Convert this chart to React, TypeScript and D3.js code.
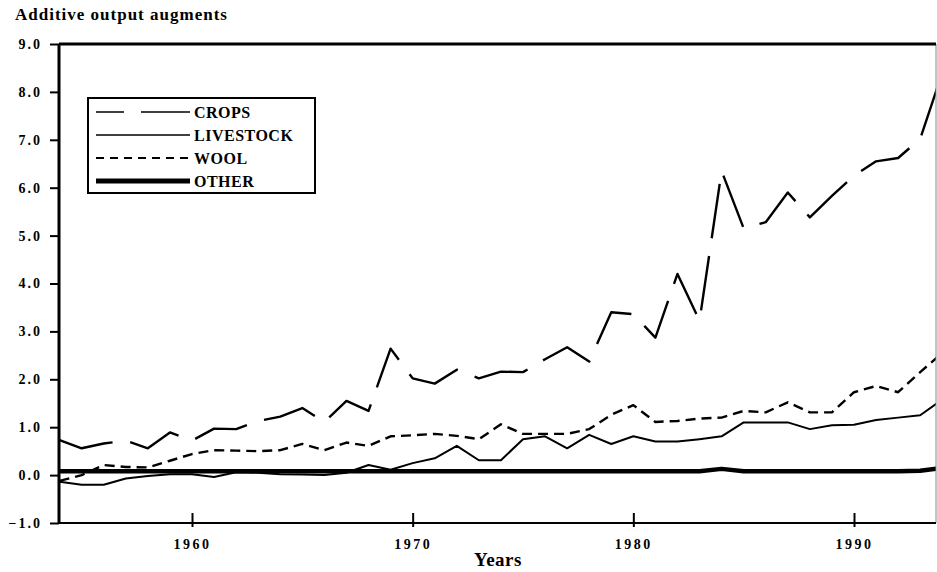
import { useEffect, useRef } from 'react';
import * as d3 from 'd3';

// years on the x axis (one point per year)
const years = [
  1954, 1955, 1956, 1957, 1958, 1959, 1960, 1961, 1962, 1963,
  1964, 1965, 1966, 1967, 1968, 1969, 1970, 1971, 1972, 1973,
  1974, 1975, 1976, 1977, 1978, 1979, 1980, 1981, 1982, 1983,
  1984, 1985, 1986, 1987, 1988, 1989, 1990, 1991, 1992, 1993, 1994,
];

const crops = [
  0.73, 0.56, 0.66, 0.72, 0.56, 0.89, 0.72, 0.97, 0.96, 1.13,
  1.22, 1.40, 1.11, 1.55, 1.34, 2.64, 2.02, 1.91, 2.20, 2.02,
  2.16, 2.15, 2.42, 2.67, 2.37, 3.40, 3.36, 2.87, 4.20, 3.22,
  6.35, 5.15, 5.28, 5.90, 5.38, 5.83, 6.25, 6.55, 6.62, 7.02, 8.40,
];

const livestock = [
  -0.14, -0.20, -0.20, -0.07, -0.02, 0.02, 0.02, -0.04, 0.06, 0.05,
  0.02, 0.01, 0.00, 0.05, 0.21, 0.11, 0.25, 0.35, 0.61, 0.31,
  0.31, 0.75, 0.81, 0.56, 0.84, 0.65, 0.81, 0.70, 0.70, 0.75,
  0.81, 1.10, 1.10, 1.10, 0.96, 1.04, 1.05, 1.15, 1.20, 1.25, 1.58,
];

const wool = [
  -0.12, 0.00, 0.21, 0.17, 0.16, 0.30, 0.44, 0.52, 0.51, 0.50,
  0.52, 0.65, 0.52, 0.68, 0.61, 0.81, 0.83, 0.86, 0.82, 0.75,
  1.06, 0.86, 0.86, 0.86, 0.96, 1.26, 1.46, 1.11, 1.13, 1.18,
  1.20, 1.34, 1.31, 1.52, 1.31, 1.31, 1.73, 1.86, 1.73, 2.15, 2.55,
];

const other = [
  0.08, 0.08, 0.08, 0.08, 0.08, 0.08, 0.08, 0.08, 0.08, 0.08,
  0.08, 0.08, 0.08, 0.08, 0.08, 0.08, 0.08, 0.08, 0.08, 0.08,
  0.08, 0.08, 0.08, 0.08, 0.08, 0.08, 0.08, 0.08, 0.08, 0.08,
  0.13, 0.08, 0.08, 0.08, 0.08, 0.08, 0.08, 0.08, 0.08, 0.09, 0.15,
];

const yTicks = [-1, 0, 1, 2, 3, 4, 5, 6, 7, 8, 9];
const xTicks = [1960, 1970, 1980, 1990];
const seriesNames = ['CROPS', 'LIVESTOCK', 'WOOL', 'OTHER'];

export default function App() {
  const svgRef = useRef<SVGSVGElement>(null);

  useEffect(() => {
    if (!svgRef.current) return;
    const svg = d3.select(svgRef.current);
    svg.selectAll('*').remove();

    const font = "'Liberation Serif', 'Times New Roman', serif";
    const left = 59;
    const right = 936;
    const top = 44;
    const bottom = 523;

    const x = d3.scaleLinear().domain([1960, 1990]).range([192, 854]);
    const y = d3.scaleLinear().domain([-1, 9]).range([bottom, top]);

    // 제목
    svg.append('text')
      .attr('x', 15)
      .attr('y', 20)
      .attr('font-family', font)
      .attr('font-size', 17)
      .attr('font-weight', 700)
      .attr('letter-spacing', 1)
      .text('Additive output augments');

    svg.append('clipPath')
      .attr('id', 'plot-clip')
      .append('rect')
      .attr('x', left)
      .attr('y', top)
      .attr('width', right - left)
      .attr('height', bottom - top);

    const series = [
      { values: crops, dash: '55,18', width: 2.4, legendDash: '28,17,60', legendWidth: 1.6 },
      { values: livestock, dash: null, width: 2, legendDash: null, legendWidth: 1.6 },
      { values: wool, dash: '10,6', width: 2.4, legendDash: '8,6', legendWidth: 2.2 },
      { values: other, dash: null, width: 4.5, legendDash: null, legendWidth: 5 },
    ];

    const line = d3.line<number>()
      .x((_, i) => x(years[i]))
      .y(d => y(d));

    const lines = svg.append('g').attr('clip-path', 'url(#plot-clip)');
    // draw OTHER first so thin lines stay visible on top
    [3, 1, 2, 0].forEach(k => {
      const s = series[k];
      lines.append('path')
        .datum(s.values)
        .attr('d', line)
        .attr('fill', 'none')
        .attr('stroke', '#000')
        .attr('stroke-width', s.width)
        .attr('stroke-linejoin', 'round')
        .attr('stroke-dasharray', s.dash);
    });

    // frame: thin right side, heavy top
    svg.append('line')
      .attr('x1', right).attr('x2', right)
      .attr('y1', top).attr('y2', bottom)
      .attr('stroke', '#888').attr('stroke-width', 1);
    svg.append('line')
      .attr('x1', left).attr('x2', right)
      .attr('y1', top).attr('y2', top)
      .attr('stroke', '#000').attr('stroke-width', 3);

    // Y 축
    const yAxis = svg.append('g')
      .attr('transform', `translate(${left},0)`)
      .call(d3.axisLeft(y).tickValues(yTicks).tickSize(9).tickPadding(8).tickFormat(d => d3.format('.1f')(d as number)));
    yAxis.select('.domain').attr('stroke-width', 3).attr('d', `M0,${top}V${bottom}`);
    yAxis.selectAll('.tick line').attr('stroke-width', 2);
    yAxis.selectAll('text')
      .attr('font-family', font)
      .attr('font-size', 14)
      .attr('font-weight', 700)
      .attr('letter-spacing', 2)
      .attr('fill', '#000');

    // X 축
    const xAxis = svg.append('g')
      .attr('transform', `translate(0,${bottom})`)
      .call(d3.axisBottom(x).tickValues(xTicks).tickSize(4).tickPadding(12).tickFormat(d => String(d)));
    xAxis.select('.domain').attr('stroke-width', 2).attr('d', `M${left},0H${right}`);
    xAxis.selectAll('.tick line').attr('y1', -10).attr('stroke-width', 2);
    xAxis.selectAll('text')
      .attr('font-family', font)
      .attr('font-size', 14)
      .attr('font-weight', 700)
      .attr('letter-spacing', 2.5)
      .attr('fill', '#000');

    svg.append('text')
      .attr('x', 498)
      .attr('y', 566)
      .attr('text-anchor', 'middle')
      .attr('font-family', font)
      .attr('font-size', 19)
      .attr('font-weight', 700)
      .attr('letter-spacing', 0.5)
      .text('Years');

    // 범례
    const legend = svg.append('g');
    legend.append('rect')
      .attr('x', 88)
      .attr('y', 98)
      .attr('width', 227)
      .attr('height', 95)
      .attr('fill', '#fff')
      .attr('stroke', '#000')
      .attr('stroke-width', 2);

    seriesNames.forEach((name, i) => {
      const s = series[i];
      const ly = 112 + i * 23;
      legend.append('line')
        .attr('x1', 96).attr('x2', 190)
        .attr('y1', ly).attr('y2', ly)
        .attr('stroke', '#000')
        .attr('stroke-width', s.legendWidth)
        .attr('stroke-dasharray', s.legendDash);
      legend.append('text')
        .attr('x', 194)
        .attr('y', ly + 6)
        .attr('font-family', font)
        .attr('font-size', 16)
        .attr('font-weight', 700)
        .attr('letter-spacing', 0.5)
        .text(name);
    });
  }, []);

  return (
    <svg
      ref={svgRef}
      width={937}
      height={572}
      style={{ position: 'absolute', left: 0, top: 0, background: '#fff' }}
    />
  );
}
